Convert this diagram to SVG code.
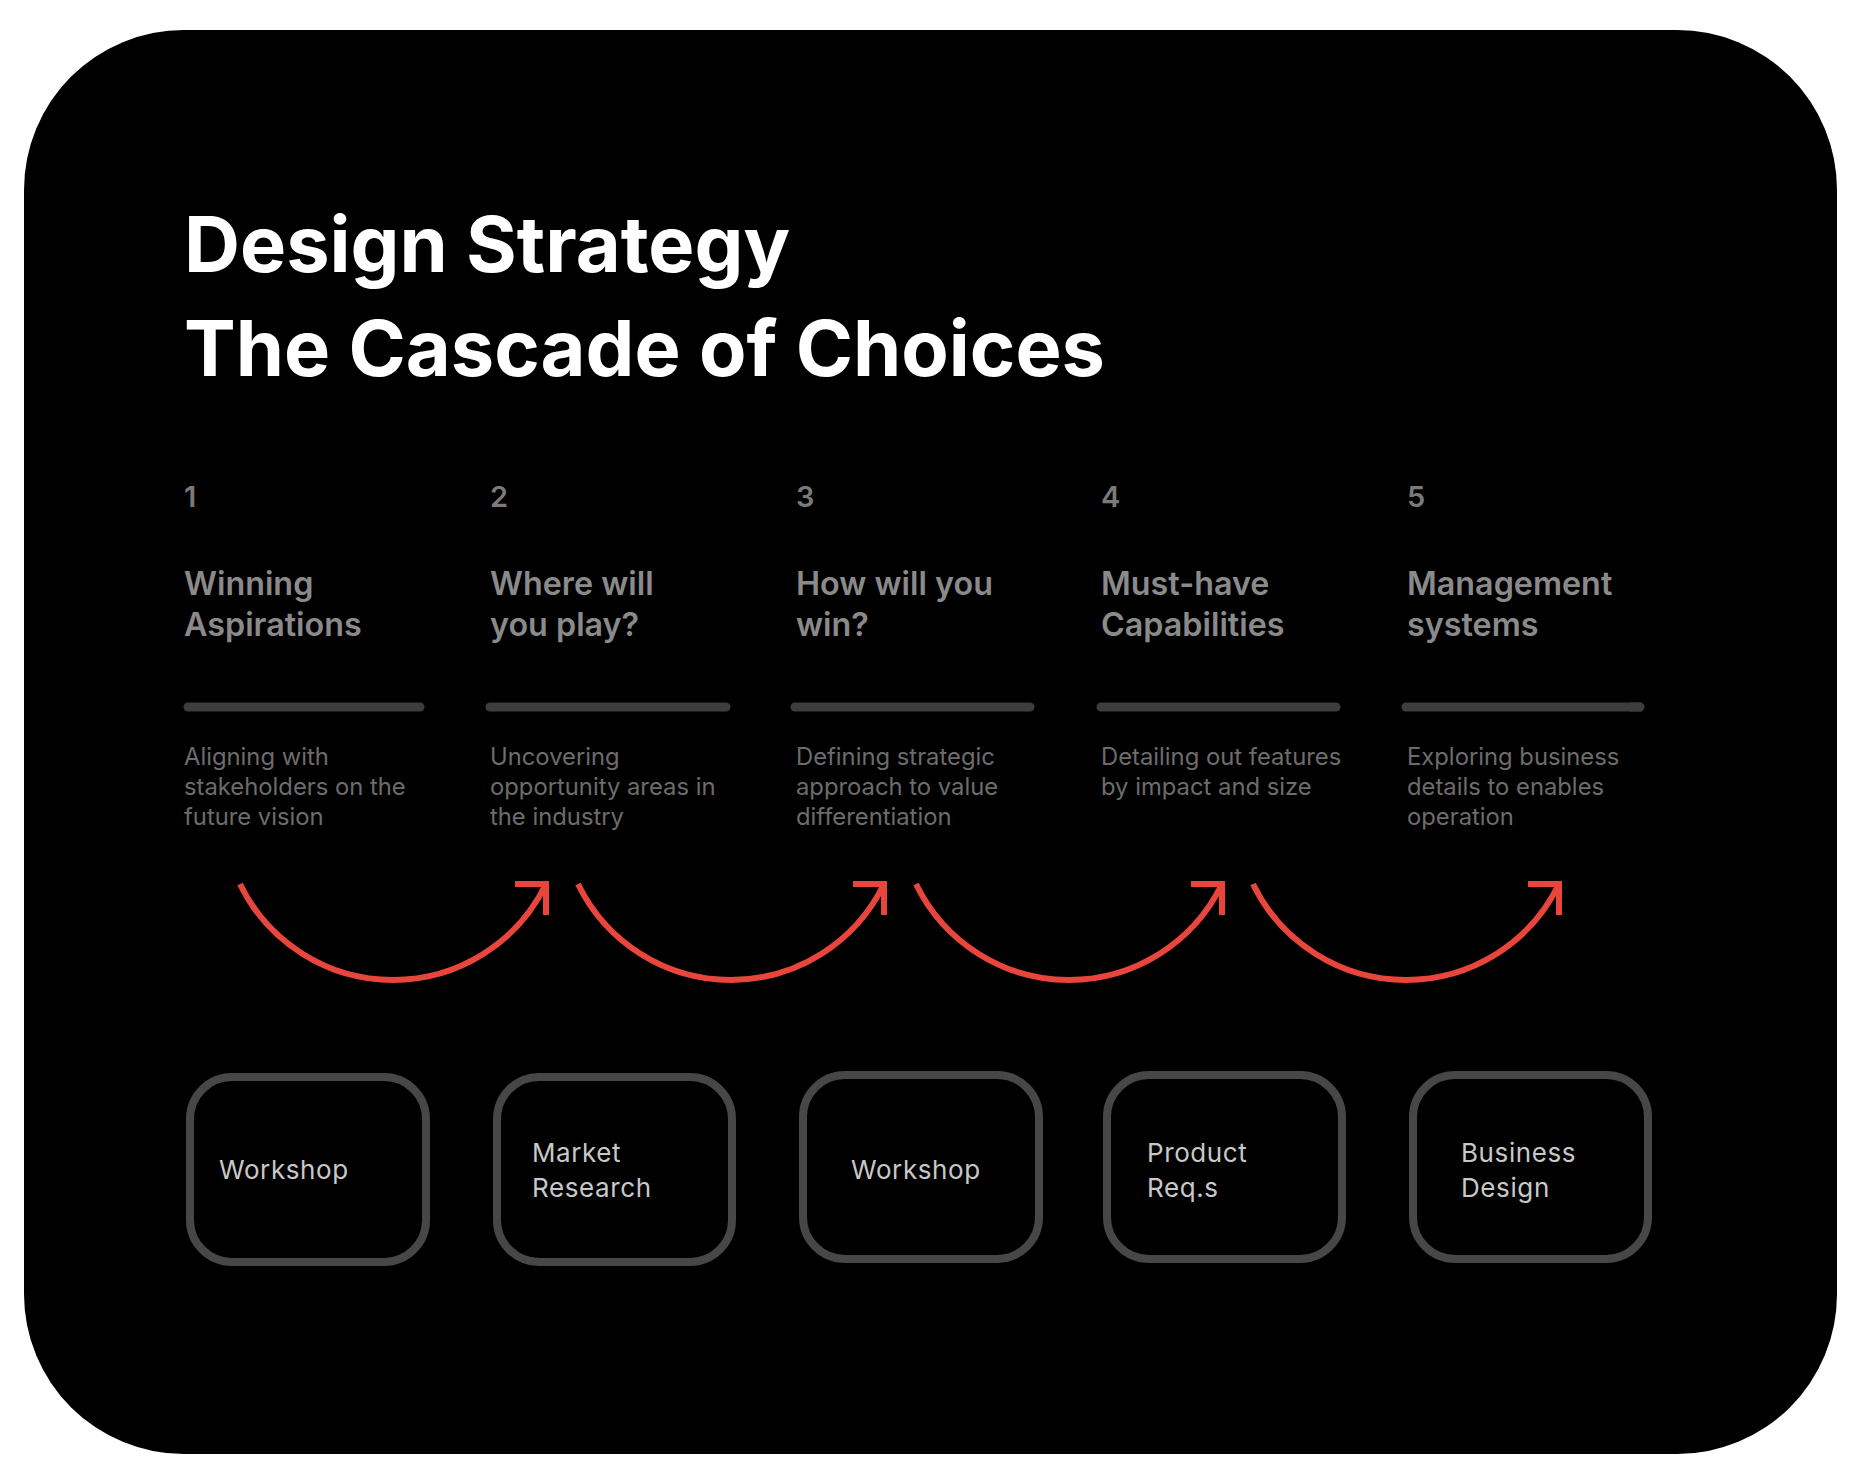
<svg xmlns="http://www.w3.org/2000/svg" width="1858" height="1484" viewBox="0 0 1858 1484">
  <style>
    .title { font-family: Inter, "Noto Sans", "Liberation Sans", sans-serif; font-weight: 700; font-size: 77.5px; fill: #ffffff; }
    .num { font-family: Inter, "Noto Sans", "Liberation Sans", sans-serif; font-weight: 600; font-size: 29px; fill: #7a7a7a; }
    .head { font-family: Inter, "Noto Sans", "Liberation Sans", sans-serif; font-weight: 600; font-size: 32.3px; fill: #8a8a8a; }
    .desc { font-family: Inter, "Noto Sans", "Liberation Sans", sans-serif; font-weight: 400; font-size: 23.8px; fill: #6c6c6c; }
    .box { fill: #000000; stroke: #474747; stroke-width: 8; }
    .boxtext { font-family: Inter, "Noto Sans", "Liberation Sans", sans-serif; font-weight: 400; font-size: 26px; letter-spacing: 0.6px; fill: #c8c8c8; }
    .bar { stroke: #3d3d3d; stroke-width: 9; stroke-linecap: round; }
    .arc { fill: none; stroke: #e8453c; stroke-width: 6; }
  </style>
  <defs>
    <marker id="head" markerUnits="userSpaceOnUse" orient="0" markerWidth="50" markerHeight="50" refX="40" refY="10" viewBox="0 0 50 50" overflow="visible">
      <path d="M9,10 H40 V41" fill="none" stroke="#e8453c" stroke-width="6"/>
    </marker>
  </defs>
  <rect x="0" y="0" width="1858" height="1484" fill="#ffffff"/>
  <rect id="panel" x="24" y="30" width="1813" height="1424" rx="160" ry="160" fill="#000000"/>

  <g id="title">
    <text class="title" x="184" y="272">Design Strategy</text>
    <text class="title" x="184" y="376">The Cascade of Choices</text>
  </g>

  <g id="step1">
    <text class="num" x="184" y="507">1</text>
    <text class="head" x="184" y="595">Winning</text>
    <text class="head" x="184" y="636">Aspirations</text>
    <line class="bar" x1="188" y1="707" x2="420" y2="707"/>
    <text class="desc" x="184" y="765">Aligning with</text>
    <text class="desc" x="184" y="795">stakeholders on the</text>
    <text class="desc" x="184" y="825">future vision</text>
  </g>
  <g id="step2">
    <text class="num" x="490" y="507">2</text>
    <text class="head" x="490" y="595">Where will</text>
    <text class="head" x="490" y="636">you play?</text>
    <line class="bar" x1="490" y1="707" x2="726" y2="707"/>
    <text class="desc" x="490" y="765">Uncovering</text>
    <text class="desc" x="490" y="795">opportunity areas in</text>
    <text class="desc" x="490" y="825">the industry</text>
  </g>
  <g id="step3">
    <text class="num" x="796" y="507">3</text>
    <text class="head" x="796" y="595">How will you</text>
    <text class="head" x="796" y="636">win?</text>
    <line class="bar" x1="795" y1="707" x2="1030" y2="707"/>
    <text class="desc" x="796" y="765">Defining strategic</text>
    <text class="desc" x="796" y="795">approach to value</text>
    <text class="desc" x="796" y="825">differentiation</text>
  </g>
  <g id="step4">
    <text class="num" x="1101" y="507">4</text>
    <text class="head" x="1101" y="595">Must-have</text>
    <text class="head" x="1101" y="636">Capabilities</text>
    <line class="bar" x1="1101" y1="707" x2="1336" y2="707"/>
    <text class="desc" x="1101" y="765">Detailing out features</text>
    <text class="desc" x="1101" y="795">by impact and size</text>
  </g>
  <g id="step5">
    <text class="num" x="1407" y="507">5</text>
    <text class="head" x="1407" y="595">Management</text>
    <text class="head" x="1407" y="636">systems</text>
    <line class="bar" x1="1406" y1="707" x2="1640" y2="707"/>
    <rect x="1630" y="702.5" width="12" height="9" fill="#3d3d3d"/>
    <text class="desc" x="1407" y="765">Exploring business</text>
    <text class="desc" x="1407" y="795">details to enables</text>
    <text class="desc" x="1407" y="825">operation</text>
  </g>

  <g id="connectors">
    <path class="arc" d="M240,884 A170,170 0 0 0 546,884" marker-end="url(#head)"/>
    <path class="arc" d="M578,884 A170,170 0 0 0 884,884" marker-end="url(#head)"/>
    <path class="arc" d="M916,884 A170,170 0 0 0 1222,884" marker-end="url(#head)"/>
    <path class="arc" d="M1253,884 A170,170 0 0 0 1559,884" marker-end="url(#head)"/>
  </g>

  <g id="box1">
    <rect class="box" x="190" y="1077" width="236" height="185" rx="42" ry="42"/>
    <text class="boxtext" x="219" y="1179">Workshop</text>
  </g>
  <g id="box2">
    <rect class="box" x="497" y="1077" width="235" height="185" rx="42" ry="42"/>
    <text class="boxtext" x="532" y="1162">Market</text>
    <text class="boxtext" x="532" y="1197">Research</text>
  </g>
  <g id="box3">
    <rect class="box" x="803" y="1075" width="236" height="184" rx="42" ry="42"/>
    <text class="boxtext" x="851" y="1179">Workshop</text>
  </g>
  <g id="box4">
    <rect class="box" x="1107" y="1075" width="235" height="184" rx="42" ry="42"/>
    <text class="boxtext" x="1147" y="1162">Product</text>
    <text class="boxtext" x="1147" y="1197">Req.s</text>
  </g>
  <g id="box5">
    <rect class="box" x="1413" y="1075" width="235" height="184" rx="42" ry="42"/>
    <text class="boxtext" x="1461" y="1162">Business</text>
    <text class="boxtext" x="1461" y="1197">Design</text>
  </g>
</svg>
